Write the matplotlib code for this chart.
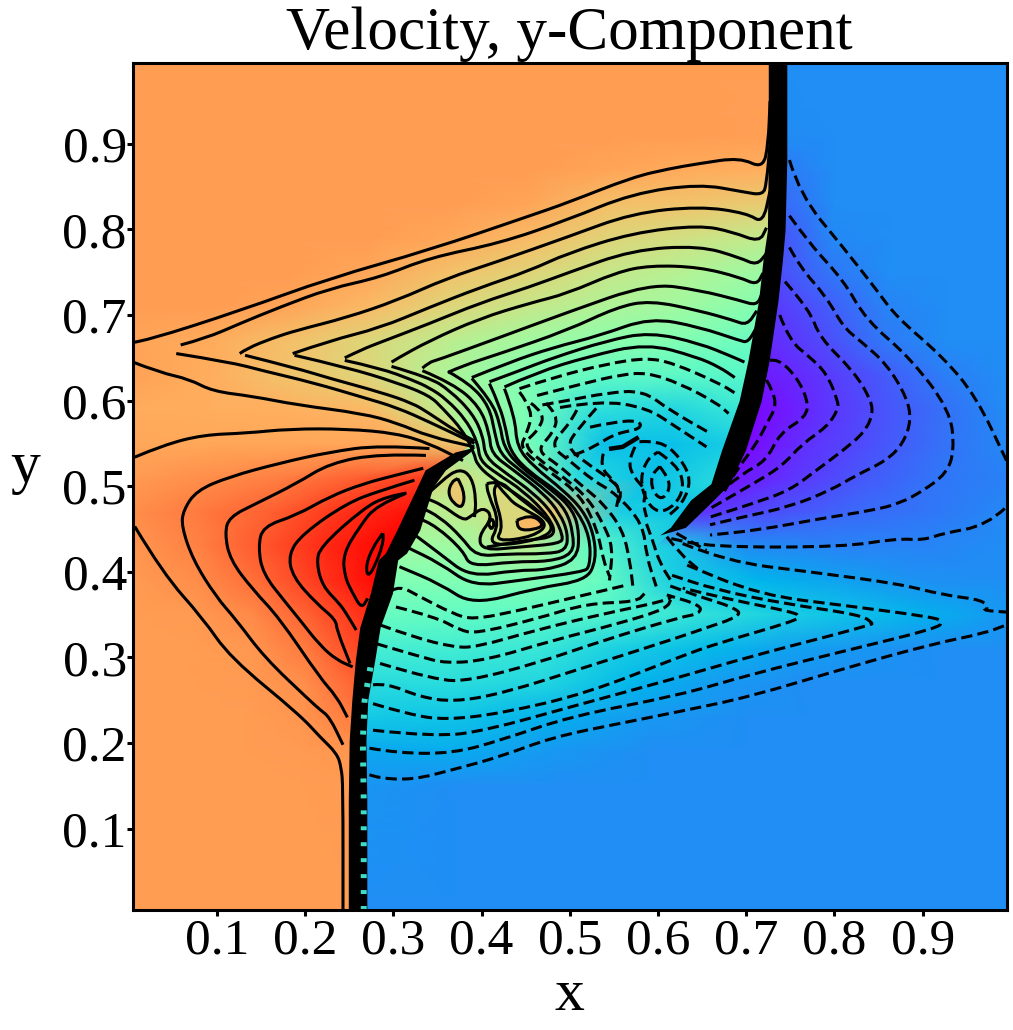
import numpy as np
import matplotlib
matplotlib.use("Agg")
from matplotlib import pyplot as plt
from matplotlib.path import Path
from matplotlib.patches import PathPatch

plt.rcParams['font.family'] = ['Liberation Serif', 'DejaVu Serif']

# field samples, as position on the rainbow scale (0-1)
# rows of y, with the two shock positions for each row
y_rows = [.005,.15,.19,.23,.27,.31,.35,.39,.43,.47,.51,.55,.59,.63,.67,.71,.75,.79,.83,.87,.91,.995]
shock_l = [.2595,.2595,.26,.261,.266,.27,.278,.292,.302,.322,.345,.39,.36,.36,.36,.36,.36,.36,.36,.36,.36,.36]
shock_r = [.70,.70,.70,.70,.68,.66,.64,.62,.60,.638,.674,.688,.703,.711,.717,.724,.728,.733,.735,.7355,.7355,.7355]

# left of shock_l
v_a = [[.787,.787,.787,.787,.787],[.787,.787,.787,.787,.79],[.787,.787,.787,.79,.80],[.787,.787,.787,.80,.84],
       [.787,.787,.79,.81,.88],[.787,.787,.795,.84,.92],[.787,.79,.82,.88,.95],[.79,.81,.86,.93,1.0],
       [.80,.83,.89,.95,1.0],[.81,.84,.875,.935,.98],[.79,.81,.835,.875,.93],[.77,.77,.77,.77,.70],
       [.765,.76,.755,.74,.62],[.78,.76,.72,.68,.59],[.775,.765,.73,.68,.62],[.787,.787,.775,.74,.685],
       [.787,.787,.787,.77,.73],[.787,.787,.787,.787,.77],[.787,.787,.787,.787,.787],[.787,.787,.787,.787,.787],
       [.787,.787,.787,.787,.787],[.787,.787,.787,.787,.787]]
# between the shocks
v_b = [[.19,.19,.19,.19,.19],[.20,.19,.19,.19,.19],[.23,.235,.205,.19,.19],[.29,.28,.245,.205,.19],
       [.33,.335,.315,.25,.205],[.39,.38,.36,.30,.26],[.46,.445,.43,.405,.355],[.50,.50,.50,.45,.30],
       [.56,.56,.62,.44,.31],[.60,.64,.72,.30,.27],[.68,.60,.33,.27,.33],[.55,.46,.27,.27,.30],
       [.62,.50,.34,.32,.37],[.59,.50,.44,.43,.42],[.62,.57,.525,.50,.45],[.685,.64,.59,.56,.50],
       [.73,.69,.64,.60,.55],[.77,.735,.685,.655,.62],[.787,.775,.73,.72,.70],[.787,.787,.775,.765,.755],
       [.787,.787,.787,.787,.785],[.787,.787,.787,.787,.787]]
# right of shock_r
v_c = [[.19,.19,.19,.19,.19],[.19,.19,.19,.19,.19],[.19,.19,.19,.19,.19],[.19,.19,.19,.19,.19],
       [.205,.19,.19,.19,.19],[.26,.22,.20,.19,.19],[.355,.305,.275,.245,.205],[.30,.25,.22,.195,.19],
       [.31,.185,.175,.175,.19],[.06,.10,.135,.155,.18],[.02,.07,.115,.155,.17],[.0,.06,.105,.145,.18],
       [.005,.055,.105,.145,.185],[.03,.07,.115,.165,.19],[.05,.095,.16,.19,.19],[.07,.12,.175,.19,.19],
       [.09,.155,.19,.19,.19],[.10,.18,.19,.19,.19],[.13,.19,.19,.19,.19],[.16,.19,.19,.19,.19],
       [.185,.19,.19,.19,.19],[.19,.19,.19,.19,.19]]

# black bands where the contours pile up on the shocks: y, left edge, right edge
band_l_y = [.005,.133,.203,.25,.297,.335,.375,.414,.422,.449,.499,.519,.540,.546]
band_l_0 = [.249,.249,.250,.253,.257,.262,.274,.283,.291,.304,.327,.336,.370,.393]
band_l_1 = [.270,.270,.269,.271,.279,.285,.299,.305,.315,.330,.345,.359,.387,.393]
band_r_y = [.443,.452,.484,.503,.542,.600,.647,.717,.764,.799,.881,.995]
band_r_0 = [.602,.614,.637,.660,.672,.692,.702,.714,.719,.724,.725,.725]
band_r_1 = [.602,.631,.663,.681,.699,.717,.726,.736,.741,.744,.746,.746]

# solid contours: upper edges of the wedge
s1 = [(.005,.668),(.02,.670),(.126,.705),(.228,.743),(.341,.776),(.455,.816),(.497,.831),(.571,.861),(.613,.871),(.647,.877),(.693,.884),(.719,.871),(.725,.900),(.727,.950)]
s2 = [(.059,.665),(.088,.673),(.126,.690),(.171,.709),(.228,.731),(.285,.744),(.341,.767),(.421,.784),(.497,.811),(.571,.842),(.647,.853),(.696,.844),(.719,.840),(.723,.854),(.727,.90)]
s3 = [(.126,.655),(.134,.661),(.163,.673),(.190,.682),(.247,.697),(.304,.717),(.361,.743),(.417,.762),(.497,.791),(.571,.819),(.647,.827),(.701,.819),(.719,.807),(.727,.845)]
s4 = [(.186,.655),(.228,.670),(.285,.685),(.341,.709),(.398,.732),(.455,.752),(.497,.772),(.571,.796),(.647,.805),(.685,.797),(.715,.785),(.723,.802)]
s5 = [(.245,.650),(.265,.660),(.285,.668),(.341,.690),(.398,.714),(.455,.733),(.497,.749),(.571,.776),(.647,.781),(.693,.767),(.712,.758),(.723,.772)]
s6 = [(.298,.645),(.304,.649),(.341,.670),(.398,.696),(.455,.714),(.497,.725),(.553,.750),(.591,.758),(.647,.756),(.693,.744),(.712,.735),(.719,.749)]
s7 = [(.333,.638),(.341,.645),(.349,.647),(.421,.674),(.497,.703),(.591,.737),(.647,.729),(.693,.717),(.712,.711),(.718,.725)]
s8 = [(.362,.633),(.379,.641),(.421,.655),(.497,.682),(.553,.709),(.591,.717),(.647,.705),(.685,.694),(.701,.688),(.712,.705)]
s9 = [(.389,.627),(.432,.645),(.481,.662),(.534,.676),(.591,.697),(.647,.686),(.693,.670),(.702,.668),(.712,.686)]
s10 = [(.409,.622),(.443,.635),(.481,.650),(.542,.670),(.591,.680),(.647,.667),(.685,.651),(.698,.645)]
s11 = [(.426,.616),(.463,.633),(.519,.651),(.587,.667),(.644,.651),(.670,.639),(.687,.627)]

# solid contours: lower edges of the wedge, through the neck and round the hot spots
n1 = [(.005,.645),(.035,.633),(.069,.625),(.095,.611),(.141,.605),(.191,.595),(.265,.585),(.304,.574),(.341,.558),(.392,.546)]
n2 = [(.054,.655),(.115,.645),(.152,.635),(.209,.621),(.265,.604),(.304,.592),(.341,.575),(.392,.550)]
n3 = [(.132,.653),(.190,.638),(.228,.626),(.285,.610),(.322,.597),(.341,.585),(.37,.565),(.392,.553)]
n4 = [(.188,.653),(.247,.639),(.304,.621),(.341,.606),(.356,.591),(.379,.565),(.392,.538),(.394,.527),(.409,.511),(.447,.486),(.47,.466)]
n5 = [(.245,.647),(.285,.638),(.322,.624),(.341,.615),(.360,.602),(.383,.577),(.396,.550),(.398,.530),(.417,.515),(.447,.495),(.477,.464),(.485,.441),(.451,.437),(.406,.429)]
n6 = [(.298,.640),(.341,.627),(.364,.612),(.390,.585),(.402,.558),(.404,.534),(.428,.515),(.459,.492),(.481,.468),(.493,.441),(.489,.433),(.443,.429),(.402,.425),(.396,.441),(.413,.464),(.402,.476),(.387,.464),(.379,.460),(.353,.480),(.330,.488)]
n7 = [(.333,.635),(.368,.620),(.398,.593),(.409,.562),(.411,.538),(.436,.519),(.470,.492),(.489,.468),(.498,.445),(.496,.425),(.474,.421),(.428,.421),(.394,.418),(.377,.441),(.353,.464),(.330,.476)]
n8 = [(.362,.634),(.387,.620),(.409,.593),(.415,.562),(.421,.538),(.443,.519),(.477,.492),(.496,.472),(.504,.445),(.504,.421),(.477,.412),(.436,.412),(.387,.406),(.379,.425),(.349,.453),(.326,.464)]
n9 = [(.389,.626),(.411,.600),(.421,.573),(.425,.546),(.443,.523),(.481,.495),(.504,.472),(.511,.445),(.508,.414),(.474,.402),(.440,.402),(.387,.394),(.353,.421),(.322,.445)]
n10 = [(.409,.620),(.421,.593),(.428,.565),(.432,.542),(.451,.519),(.489,.492),(.508,.472),(.523,.441),(.523,.406),(.515,.400),(.443,.390),(.390,.383),(.353,.410),(.315,.429)]
n11 = [(.426,.614),(.438,.581),(.440,.546),(.459,.523),(.493,.495),(.515,.472),(.527,.445),(.530,.414),(.519,.390),(.462,.381),(.390,.361),(.353,.386),(.307,.406)]

# closed solid loops round the two hot spots
loop1 = [(.406,.503),(.421,.507),(.436,.492),(.451,.480),(.485,.453),(.466,.437),(.406,.429),(.421,.457),(.407,.492),(.406,.503)]
loop2 = [(.417,.503),(.432,.484),(.443,.476),(.477,.457),(.459,.441),(.415,.435),(.425,.453),(.413,.492),(.417,.503)]
loop3 = [(.440,.460),(.455,.468),(.472,.455),(.459,.449),(.442,.449),(.440,.460)]
loop4 = [(.408,.456),(.411,.464),(.415,.456),(.411,.449),(.408,.456)]
loop5 = [(.373,.509),(.381,.495),(.379,.474),(.368,.480),(.362,.492),(.366,.505),(.373,.509)]
loop6 = [(.334,.486),(.355,.507),(.375,.521),(.389,.511),(.394,.484),(.392,.464)]
loop_levels = [.64, .68, .75, .72]

# solid contours in the red lobe
r0 = [(.007,.534),(.039,.548),(.084,.560),(.133,.562),(.183,.567),(.247,.567),(.303,.562),(.341,.550),(.379,.530)]
r1 = [(.007,.453),(.039,.398),(.084,.346),(.115,.300),(.194,.233),(.217,.207),(.236,.188),(.241,.172),(.243,.149),(.243,.005)]
r2 = [(.341,.544),(.285,.548),(.228,.540),(.171,.527),(.114,.511),(.077,.495),(.062,.472),(.060,.453),(.073,.414),(.099,.371),(.122,.344),(.154,.30),(.205,.250),(.217,.239),(.228,.230),(.243,.198)]
r3 = [(.337,.536),(.285,.538),(.228,.527),(.190,.503),(.145,.480),(.114,.464),(.109,.445),(.115,.414),(.141,.379),(.171,.346),(.217,.276),(.236,.254),(.248,.230)]
r4 = [(.334,.521),(.303,.513),(.266,.503),(.228,.488),(.190,.466),(.152,.453),(.147,.429),(.152,.398),(.179,.363),(.194,.344),(.217,.314),(.236,.297),(.254,.289)]
r5 = [(.324,.507),(.285,.495),(.247,.480),(.198,.445),(.181,.421),(.186,.394),(.213,.363),(.235,.344),(.236,.332),(.251,.293)]
r6 = [(.315,.492),(.292,.488),(.266,.474),(.217,.429),(.213,.410),(.220,.383),(.239,.363),(.247,.351),(.258,.332)]
r7 = [(.313,.491),(.281,.478),(.262,.453),(.243,.421),(.245,.394),(.254,.375),(.264,.357),(.271,.369)]
r8 = [(.288,.445),(.290,.437),(.279,.406),(.271,.394),(.269,.408),(.277,.429),(.288,.445)]

# dashed contours below the neck
b1 = [(.273,.163),(.283,.159),(.322,.157),(.368,.169),(.421,.184),(.481,.207),(.557,.223),(.625,.237),(.704,.254),(.817,.289),(.912,.316),(.969,.328),(.995,.338)]
b2 = [(.273,.194),(.307,.188),(.368,.188),(.424,.204),(.500,.231),(.625,.256),(.704,.280),(.817,.309),(.916,.334),(.923,.342),(.912,.347),(.817,.360),(.715,.373),(.628,.410)]
b3 = [(.277,.215),(.349,.207),(.406,.215),(.500,.242),(.625,.277),(.704,.301),(.798,.326),(.840,.338),(.844,.340),(.829,.350),(.742,.363),(.666,.379),(.610,.398)]
b4 = [(.277,.246),(.319,.233),(.360,.227),(.424,.235),(.519,.258),(.625,.301),(.666,.316),(.753,.342),(.761,.348),(.753,.353),(.685,.367),(.628,.381)]
b5 = [(.277,.268),(.292,.270),(.330,.254),(.368,.248),(.424,.258),(.519,.289),(.625,.324),(.647,.332),(.696,.349),(.685,.359),(.647,.371),(.610,.385)]
b6 = [(.285,.293),(.349,.273),(.387,.273),(.462,.293),(.538,.320),(.625,.347),(.647,.351),(.649,.361),(.610,.373)]
b7 = [(.281,.316),(.330,.301),(.360,.293),(.406,.297),(.481,.320),(.557,.340),(.610,.357),(.615,.369)]
b8 = [(.285,.338),(.322,.324),(.368,.312),(.394,.312),(.462,.332),(.538,.351),(.613,.367),(.615,.373)]
b9 = [(.303,.359),(.349,.347),(.375,.332),(.394,.328),(.462,.345),(.519,.363),(.576,.365),(.585,.375)]
b10 = [(.298,.378),(.307,.384),(.330,.371),(.368,.351),(.390,.344),(.443,.355),(.500,.369),(.542,.379),(.562,.384)]
b11 = [(.628,.433),(.678,.412),(.772,.400),(.874,.386),(.923,.373),(.969,.367),(.974,.357),(.969,.355),(.995,.353)]

# dashed contours right of the right shock
v1 = [(.749,.881),(.761,.840),(.810,.779),(.848,.729),(.870,.698),(.923,.651),(.961,.604),(.995,.530)]
v1b = [(.993,.474),(.972,.454),(.923,.445),(.901,.437),(.870,.439),(.810,.429),(.659,.429),(.61,.44)]
v2 = [(.749,.816),(.772,.783),(.810,.741),(.836,.694),(.885,.651),(.931,.589),(.936,.542),(.927,.515),(.901,.495),(.874,.480),(.844,.472),(.783,.462),(.715,.449),(.659,.443)]
v3 = [(.749,.779),(.761,.756),(.791,.721),(.810,.686),(.829,.670),(.859,.643),(.882,.604),(.887,.577),(.878,.550),(.859,.530),(.825,.513),(.795,.495),(.749,.476),(.696,.464),(.659,.455)]
v4 = [(.744,.739),(.772,.706),(.783,.674),(.821,.635),(.840,.604),(.844,.585),(.834,.563),(.810,.542),(.780,.519),(.749,.495),(.708,.480),(.659,.464)]
v5 = [(.738,.700),(.749,.670),(.772,.651),(.791,.632),(.804,.600),(.804,.589),(.791,.569),(.764,.550),(.740,.523),(.708,.503),(.659,.474)]
v6 = [(.727,.647),(.736,.649),(.757,.628),(.770,.600),(.768,.581),(.738,.562),(.723,.530),(.696,.515),(.659,.484)]
v7 = [(.723,.624),(.730,.612),(.734,.593),(.723,.573),(.712,.550),(.689,.519),(.674,.492)]

# dashed contours in the blue core
d1 = [(.443,.614),(.481,.627),(.542,.643),(.587,.650),(.617,.644),(.670,.620),(.687,.609)]
d2 = [(.463,.606),(.519,.621),(.557,.630),(.587,.633),(.625,.620),(.667,.597),(.68,.585)]
d3 = [(.469,.595),(.497,.600),(.542,.609),(.583,.612),(.613,.589),(.659,.562)]
d4 = [(.489,.592),(.534,.600),(.587,.592),(.621,.569),(.655,.546)]
e1 = [(.456,.597),(.472,.585),(.464,.565),(.447,.550),(.466,.530),(.498,.507),(.522,.484),(.538,.456),(.549,.429),(.545,.390)]
e2 = [(.473,.597),(.487,.583),(.481,.562),(.462,.542),(.487,.525),(.511,.503),(.538,.480),(.560,.449),(.568,.414),(.572,.379)]
e3 = [(.508,.589),(.500,.573),(.477,.548),(.502,.528),(.526,.507),(.553,.491),(.583,.456),(.587,.418),(.598,.383)]
e4 = [(.530,.591),(.509,.567),(.496,.546),(.519,.527),(.542,.511),(.560,.495),(.553,.476)]
e5 = [(.443,.610),(.459,.589),(.451,.561),(.443,.544),(.477,.517),(.512,.490),(.531,.450),(.538,.414),(.545,.395)]
core1 = [(.523,.569),(.549,.575),(.579,.577),(.581,.567),(.553,.562),(.530,.548),(.515,.540),(.496,.534)]
core2 = [(.538,.538),(.534,.523),(.549,.507),(.557,.495),(.553,.476)]
core3 = [(.574,.546),(.566,.530),(.572,.511),(.587,.495),(.583,.480),(.587,.464)]
fan1 = [(.587,.456),(.594,.437),(.602,.410),(.617,.386)]
fan2 = [(.610,.441),(.625,.421),(.647,.402)]
fan3 = [(.621,.445),(.655,.425)]
ring1 = [(.602,.523),(.612,.510),(.613,.495),(.604,.484),(.594,.494),(.592,.512),(.602,.523)]
ring2 = [(.60,.540),(.622,.525),(.630,.500),(.620,.478),(.600,.468),(.585,.485),(.580,.510),(.588,.532),(.60,.540)]
ring3 = [(.579,.552),(.602,.554),(.625,.534),(.638,.507),(.628,.480),(.610,.464)]
jag = [(.547,.544),(.560,.546),(.576,.556)]

solid = [s1,s2,s3,s4,s5,s6,s7,s8,s9,s10,s11,n1,n2,n3,n4,n5,n6,n7,n8,n9,n10,n11,
         loop1,loop2,loop3,loop4,loop5,loop6,r0,r1,r2,r3,r4,r5,r6,r7,r8]
dashed = [b1,b2,b3,b4,b5,b6,b7,b8,b9,b10,b11,v1,v1b,v2,v3,v4,v5,v6,v7,
          d1,d2,d3,d4,e1,e2,e3,e4,e5,core1,core2,core3,fan1,fan2,fan3,ring1,ring2,ring3]

ticks = [.1,.2,.3,.4,.5,.6,.7,.8,.9]

def curve(pts):
    # read points used as control points of a quadratic curve, so the line is not angular
    p = np.array(pts)
    verts = [p[0]]
    codes = [Path.MOVETO]
    for i in range(1, len(p)-1):
        verts += [p[i], (p[i]+p[i+1])/2]
        codes += [Path.CURVE3, Path.CURVE3]
    verts.append(p[-1])
    codes.append(Path.LINETO)
    return Path(verts, codes)

# shock fitted mesh, three zones of five columns each
frac = np.linspace(0, 1, 5)
yy = np.array(y_rows)
ll = np.array(shock_l)
rr = np.array(shock_r)
xa = np.outer(.005*np.ones(len(yy)), 1-frac) + np.outer(ll, frac)
xb = np.outer(ll, 1-frac) + np.outer(rr, frac)
xc = np.outer(rr, 1-frac) + np.outer(.995*np.ones(len(yy)), frac)
X = np.hstack([xa, xb, xc])
Y = np.repeat(yy[:, None], X.shape[1], axis=1)
V = np.hstack([np.array(v_a), np.array(v_b), np.array(v_c)])

fig = plt.figure(figsize=(10.13, 10.30), dpi=100)
ax = fig.add_axes([133/1013, 1-910/1030, 873.5/1013, 847.5/1030])
ax.pcolormesh(X, Y, V, shading='gouraud', cmap='rainbow', vmin=0, vmax=1)

# the hot spots are too small for the sample rows
cmap = plt.get_cmap('rainbow')
for pts, lev in zip([loop1, loop2, loop3, loop5], loop_levels):
    ax.add_patch(PathPatch(curve(pts), facecolor=cmap(lev), edgecolor='none', alpha=.85))

for pts in solid:
    ax.add_patch(PathPatch(curve(pts), fill=False, edgecolor='k', lw=2.2))
for pts in dashed:
    ax.add_patch(PathPatch(curve(pts), fill=False, edgecolor='k', lw=2.2, ls=(0, (3.7, 1.7))))
ax.plot(*zip(*jag), color='k', lw=3.2)

ax.fill_betweenx(band_l_y, band_l_0, band_l_1, color='k', lw=0)
ax.fill_betweenx(band_r_y, band_r_0, band_r_1, color='k', lw=0)

# gaps between the dashes along the lower shock
ax.plot(np.array(band_l_1[:5])-.0035, band_l_y[:5], color='#3fdcc8', lw=4.3,
        ls=(0, (0.67, 2.0)), dash_capstyle='butt')

ax.set_xlim(.005, .995)
ax.set_ylim(.005, .995)
ax.set_xticks(ticks)
ax.set_yticks(ticks)
ax.tick_params(width=2.2, length=4, labelsize=37)
ax.tick_params(axis='y', pad=0.5)
ax.tick_params(axis='x', pad=2)
for sp in ax.spines.values():
    sp.set_linewidth(2.2)
ax.set_title("Velocity, y-Component", fontsize=44, pad=6)
ax.set_xlabel("x", fontsize=43, labelpad=3)
ax.set_ylabel("y", fontsize=43, rotation=0, labelpad=27, y=.49)

fig.savefig("out.png", dpi=100)
